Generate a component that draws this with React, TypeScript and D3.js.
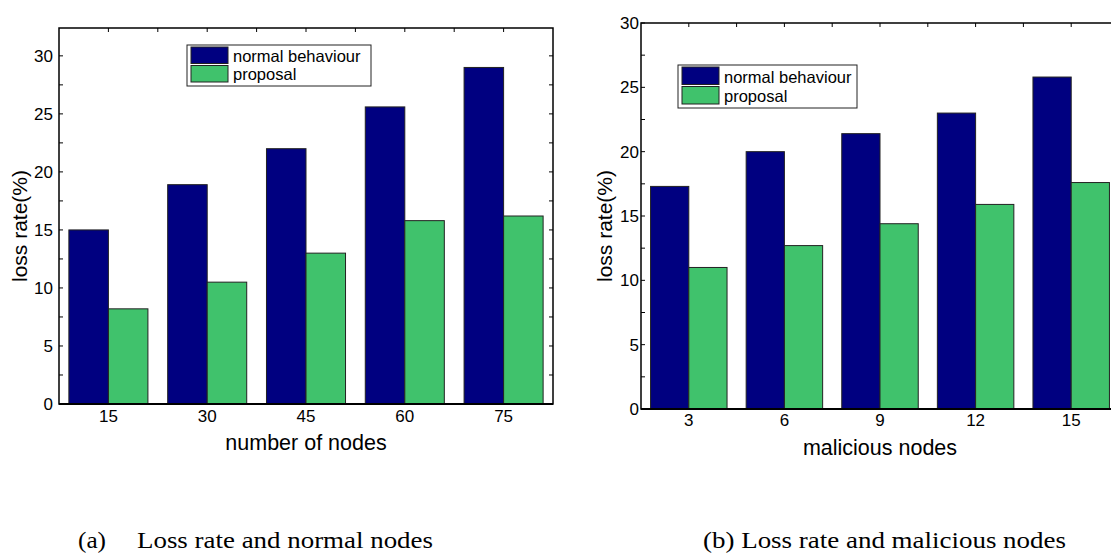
import * as d3 from 'd3';

// (a) loss rate vs number of nodes
const nodeCounts = ['15', '30', '45', '60', '75'];
const normalByNodes = [15.0, 18.9, 22.0, 25.6, 29.0];
const proposalByNodes = [8.2, 10.5, 13.0, 15.8, 16.2];

// (b) loss rate vs malicious nodes
const maliciousCounts = ['3', '6', '9', '12', '15'];
const normalByMalicious = [17.3, 20.0, 21.4, 23.0, 25.8];
const proposalByMalicious = [11.0, 12.7, 14.4, 15.9, 17.6];

const yTicks = [0, 5, 10, 15, 20, 25, 30];
const seriesNames = ['normal behaviour', 'proposal'];
const colors = ['#000080', '#40c26c'];

type PanelProps = {
  cats: string[];
  normal: number[];
  proposal: number[];
  xRange: [number, number];
  yMax: number;
  yRange: [number, number];
  xLabel: string;
  xLabelY: number;
  tickLabelY: number;
  yLabelX: number;
  yTickGap: number;
  legend: { x: number; y: number; w: number; h: number };
  caption: { text: string; x: number; len: number }[];
};

const Panel = (p: PanelProps) => {
  const x = d3.scaleBand<string>().domain(p.cats).range(p.xRange).paddingInner(0.2).paddingOuter(0.1);
  const inner = d3.scaleBand<string>().domain(seriesNames).range([0, x.bandwidth()]);
  const y = d3.scaleLinear().domain([0, p.yMax]).range(p.yRange);
  const [x0, x1] = p.xRange;
  const [yBottom, yTop] = p.yRange;

  // minor ticks every 2.5, top ticks at centres and half steps
  const minor = d3.range(0, p.yMax + 0.01, 2.5);
  const topTicks: number[] = [];
  p.cats.forEach(c => {
    const cx = x(c)! + x.bandwidth() / 2;
    topTicks.push(cx);
    if (cx + x.step() / 2 < x1 - 1) topTicks.push(cx + x.step() / 2);
  });

  const values = [p.normal, p.proposal];
  const lg = p.legend;
  const rowH = (lg.h - 4) / 2;

  return (
    <g>
      {p.cats.map((c, i) =>
        seriesNames.map((s, k) => (
          <rect
            key={c + s}
            x={x(c)! + inner(s)!}
            y={y(values[k][i])}
            width={inner.bandwidth()}
            height={y(0) - y(values[k][i])}
            fill={colors[k]}
            stroke="#222"
            strokeWidth={1}
          />
        ))
      )}

      <rect x={x0} y={yTop} width={x1 - x0} height={yBottom - yTop} fill="none" stroke="#000" strokeWidth={1.5} />
      <line x1={x0} x2={x1} y1={yBottom} y2={yBottom} stroke="#000" strokeWidth={2} />

      {minor.map(v => (
        <g key={v}>
          <line x1={x0} x2={x0 + 4} y1={y(v)} y2={y(v)} stroke="#000" strokeWidth={1} />
          <line x1={x1 - 4} x2={x1} y1={y(v)} y2={y(v)} stroke="#000" strokeWidth={1} />
        </g>
      ))}
      {topTicks.map(t => (
        <line key={t} x1={t} x2={t} y1={yTop} y2={yTop + 4} stroke="#000" strokeWidth={1} />
      ))}

      {yTicks.filter(v => v <= p.yMax).map(v => (
        <text key={v} x={x0 - p.yTickGap} y={y(v) + 6} textAnchor="end" fontSize={17}>{v}</text>
      ))}
      {p.cats.map(c => (
        <text key={c} x={x(c)! + x.bandwidth() / 2} y={p.tickLabelY} textAnchor="middle" fontSize={17}>{c}</text>
      ))}

      <text x={x(p.cats[2])! + x.bandwidth() / 2} y={p.xLabelY} textAnchor="middle" fontSize={21.5}>{p.xLabel}</text>
      <text
        transform={`translate(${p.yLabelX},${(yBottom + yTop) / 2 + 10}) rotate(-90)`}
        textAnchor="middle"
        fontSize={21}
      >
        loss rate(%)
      </text>

      {/* legend */}
      <rect x={lg.x} y={lg.y} width={lg.w} height={lg.h} fill="#fff" stroke="#222" strokeWidth={1} />
      {seriesNames.map((s, k) => (
        <g key={s}>
          <rect x={lg.x + 4} y={lg.y + 2 + k * rowH} width={37} height={rowH - 2} fill={colors[k]} stroke="#222" strokeWidth={1} />
          <text x={lg.x + 46} y={lg.y + 2 + k * rowH + rowH - 4} fontSize={16.5}>{s}</text>
        </g>
      ))}

      {p.caption.map(part => (
        <text
          key={part.text}
          x={part.x}
          y={548}
          fontFamily="'Liberation Serif', serif"
          fontSize={23}
          textLength={part.len}
          lengthAdjust="spacingAndGlyphs"
        >
          {part.text}
        </text>
      ))}
    </g>
  );
};

export default function App() {
  return (
    <div style={{ position: 'absolute', left: 0, top: 0 }}>
      <svg width={1111} height={554} style={{ display: 'block', background: '#fff' }} fontFamily="'Liberation Sans', Arial, sans-serif">
        <Panel
          cats={nodeCounts}
          normal={normalByNodes}
          proposal={proposalByNodes}
          xRange={[59, 553]}
          yMax={32.4}
          yRange={[404, 28]}
          xLabel="number of nodes"
          xLabelY={450}
          tickLabelY={422}
          yLabelX={27}
          yTickGap={6}
          legend={{ x: 187, y: 45, w: 184, h: 41 }}
          caption={[{ text: '(a)', x: 78, len: 28 }, { text: 'Loss rate and normal nodes', x: 137, len: 296 }]}
        />
        <Panel
          cats={maliciousCounts}
          normal={normalByMalicious}
          proposal={proposalByMalicious}
          xRange={[641, 1119]}
          yMax={30}
          yRange={[409, 23]}
          xLabel="malicious nodes"
          xLabelY={455}
          tickLabelY={426}
          yLabelX={612}
          yTickGap={2}
          legend={{ x: 678, y: 65, w: 179, h: 43 }}
          caption={[{ text: '(b) Loss rate and malicious nodes', x: 703, len: 363 }]}
        />
      </svg>
    </div>
  );
}
